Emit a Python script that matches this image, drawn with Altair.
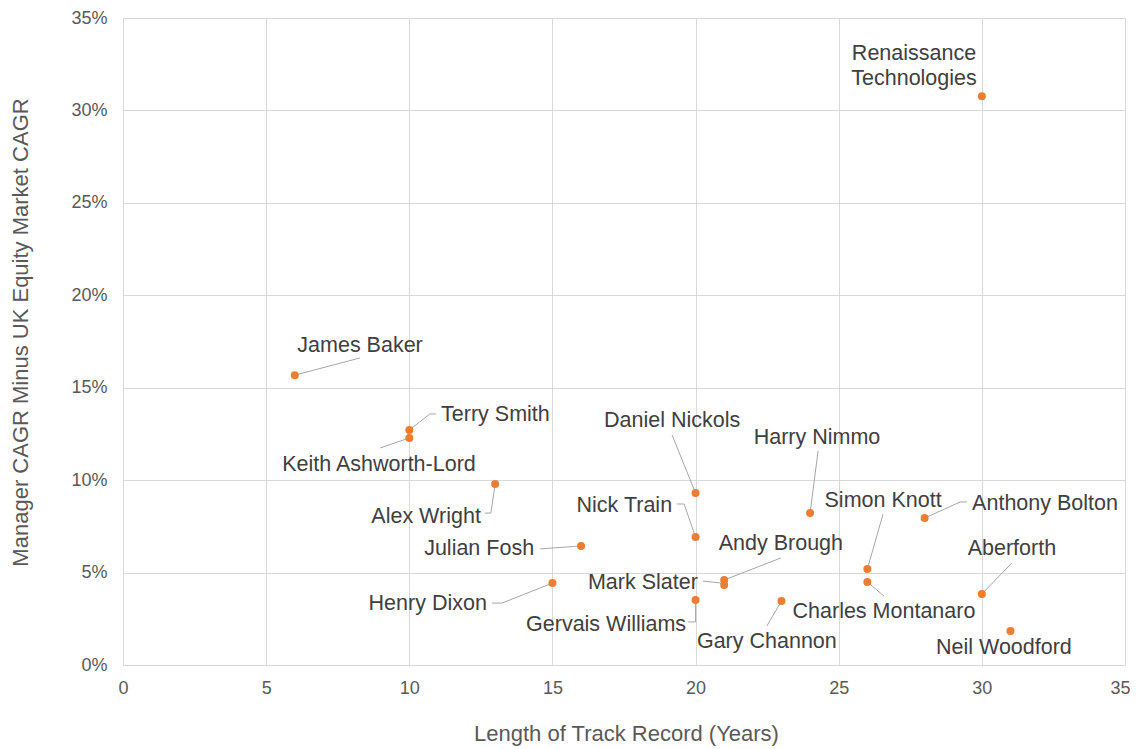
import altair as alt
import pandas as pd

# ---- data ----
names = ["Renaissance\nTechnologies", "James Baker", "Terry Smith", "Keith Ashworth-Lord",
         "Alex Wright", "Julian Fosh", "Henry Dixon", "Daniel Nickols", "Nick Train",
         "Andy Brough", "Mark Slater", "Gervais Williams", "Gary Channon", "Harry Nimmo",
         "Simon Knott", "Charles Montanaro", "Anthony Bolton", "Aberforth", "Neil Woodford"]
years = [30, 6, 10, 10, 13, 16, 15, 20, 20, 21, 21, 20, 23, 24, 26, 26, 28, 30, 31]
excess = [0.3077, 0.1568, 0.1271, 0.1228, 0.0979, 0.0644, 0.0443, 0.0930, 0.0692,
          0.0460, 0.0433, 0.0352, 0.0346, 0.0822, 0.0519, 0.0449, 0.0795, 0.0384, 0.0184]

x_ticks = [0, 5, 10, 15, 20, 25, 30, 35]
y_ticks = [0, 0.05, 0.10, 0.15, 0.20, 0.25, 0.30, 0.35]

# ---- label placement (data units) ----
label_x = [27.63, 8.28, 11.11, 8.94, 12.50, 14.36, 12.71, 19.18, 19.18, 22.98, 20.08,
           19.67, 22.49, 24.24, 26.55, 26.58, 29.66, 31.05, 30.77]
label_y = [0.3303, 0.1725, 0.1352, 0.1081, 0.0800, 0.0627, 0.0329, 0.1319, 0.0860,
           0.0654, 0.0443, 0.0216, 0.0124, 0.1227, 0.0887, 0.0286, 0.0870, 0.0627, 0.0091]
label_align = ["center", "center", "left", "center", "right", "right", "right", "center",
               "right", "center", "right", "right", "center", "center", "center", "center",
               "left", "center", "center"]

# leader-line bend points (data units), after the point itself
leader_pts = {
    "James Baker": [(8.28, 0.1661)],
    "Terry Smith": [(10.72, 0.1358), (10.93, 0.1358)],
    "Keith Ashworth-Lord": [(8.98, 0.1174)],
    "Alex Wright": [(12.85, 0.0822), (12.64, 0.0822)],
    "Julian Fosh": [(14.57, 0.0628)],
    "Henry Dixon": [(13.24, 0.0335), (12.89, 0.0335)],
    "Daniel Nickols": [(19.18, 0.1244)],
    "Nick Train": [(19.60, 0.0871), (19.35, 0.0871)],
    "Andy Brough": [(22.98, 0.0579)],
    "Mark Slater": [(20.85, 0.0444), (20.26, 0.0454)],
    "Gervais Williams": [(20.0, 0.0233), (19.74, 0.0233)],
    "Gary Channon": [(22.49, 0.0211)],
    "Harry Nimmo": [(24.28, 0.1158)],
    "Simon Knott": [(26.55, 0.0817)],
    "Charles Montanaro": [(26.58, 0.0373)],
    "Anthony Bolton": [(29.24, 0.0882), (29.48, 0.0882)],
    "Aberforth": [(31.05, 0.0552)],
}

pts = pd.DataFrame({"name": names, "years": years, "excess": excess})
labels = pd.DataFrame({"name": names, "lx": label_x, "ly": label_y, "align": label_align})

rows = []
for n, yr, ex in zip(names, years, excess):
    if n in leader_pts:
        rows.append({"name": n, "seq": 0, "x": yr, "y": ex})
        for i, (bx, by) in enumerate(leader_pts[n]):
            rows.append({"name": n, "seq": i + 1, "x": bx, "y": by})
leaders = pd.DataFrame(rows)

FONT = "Liberation Sans"
GRID = "#d9d9d9"
TXT = "#595959"

xscale = alt.Scale(domain=[0, 35], nice=False, zero=False)
yscale = alt.Scale(domain=[0, 0.35], nice=False, zero=False)

xaxis = alt.Axis(values=x_ticks, title="Length of Track Record (Years)", grid=True,
                 gridColor=GRID, domain=False, ticks=False, labelPadding=14,
                 labelFlush=True, labelFlushOffset=5, labelOverlap=False,
                 labelFontSize=18, labelColor=TXT, labelFont=FONT,
                 titleFontSize=22, titleColor=TXT, titleFont=FONT, titleFontWeight="normal",
                 titleX=503, titleY=68, titleBaseline="middle", titleAnchor="middle")
yaxis = alt.Axis(values=y_ticks, format=".0%", title="Manager CAGR Minus UK Equity Market CAGR",
                 grid=True, gridColor=GRID, domain=False, ticks=False, labelPadding=16,
                 labelFlush=False, labelOverlap=False,
                 labelFontSize=18, labelColor=TXT, labelFont=FONT,
                 titleFontSize=22, titleColor=TXT, titleFont=FONT, titleFontWeight="normal",
                 titleX=-103, titleY=314, titleBaseline="middle", titleAngle=-90,
                 titleAlign="center")

base_points = alt.Chart(pts).mark_circle(size=64, color="#ED7D31", opacity=1).encode(
    x=alt.X("years:Q", scale=xscale, axis=xaxis),
    y=alt.Y("excess:Q", scale=yscale, axis=yaxis),
)

lines = alt.Chart(leaders).mark_line(color="#a6a6a6", strokeWidth=1).encode(
    x=alt.X("x:Q", scale=xscale),
    y=alt.Y("y:Q", scale=yscale),
    detail="name:N",
    order="seq:Q",
)

text_layers = []
for al in ["left", "center", "right"]:
    sub = labels[labels["align"] == al]
    text_layers.append(
        alt.Chart(sub).mark_text(align=al, baseline="middle", font=FONT, fontSize=21.5,
                                 color="#404040", lineBreak="\n", lineHeight=25).encode(
            x=alt.X("lx:Q", scale=xscale),
            y=alt.Y("ly:Q", scale=yscale),
            text="name:N",
        )
    )

chart = alt.layer(lines, base_points, *text_layers).properties(
    width=1002, height=647,
    autosize=alt.AutoSizeParams(type="none"),
    padding={"left": 115, "top": 10, "right": 5, "bottom": 85},
).configure_view(stroke=None).configure(background="white")

chart.save("out.html", embed_options={"renderer": "svg", "actions": False})
